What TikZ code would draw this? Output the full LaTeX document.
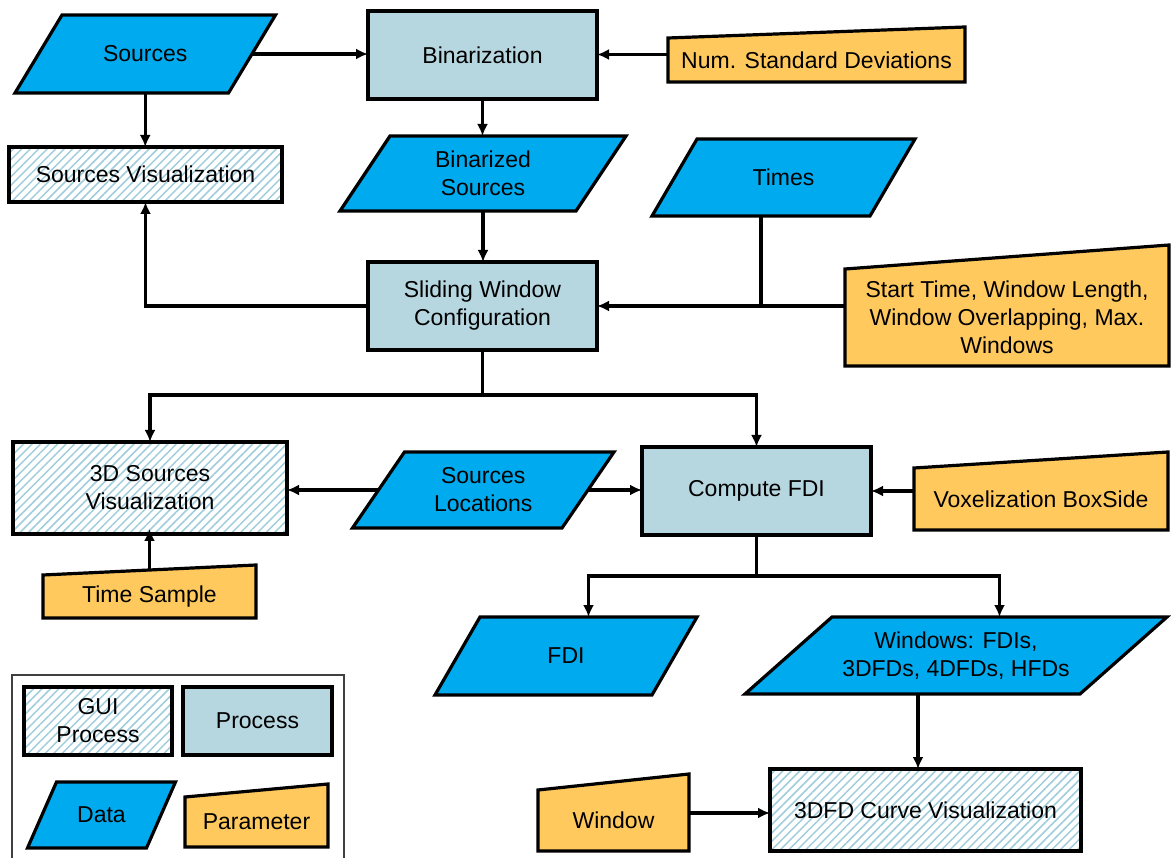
\documentclass[tikz,border=0pt]{standalone}
\usepackage{fontspec}
\setmainfont{Liberation Sans}
\usetikzlibrary{arrows.meta,patterns.meta,fit,calc}
\pgfdeclarelayer{background}
\pgfsetlayers{background,main}
\definecolor{datablue}{RGB}{0,170,238}
\definecolor{procfill}{RGB}{182,214,224}
\definecolor{paramfill}{RGB}{255,201,94}
\definecolor{hatchcol}{RGB}{160,205,220}
\newcommand{\datashp}[2]{\path[datashape] ([xshift={#2/2}]#1.north west) -- ([xshift={#2/2}]#1.north east) -- ([xshift={-#2/2}]#1.south east) -- ([xshift={-#2/2}]#1.south west) -- cycle;}
\newcommand{\parshp}[2]{\path[paramshape] (#1.south west) -- (#1.north west) -- ([yshift=#2]#1.north east) -- (#1.south east) -- cycle;}
\tikzset{
  every node/.style={inner sep=0pt, outer sep=0pt},
  lbl/.style={font=\fontsize{23}{28}\selectfont, text=black, align=center},
  proc/.style={draw, line width=3.2pt, fill=procfill},
  gui/.style={draw, line width=3.2pt, preaction={fill=white}, pattern={Lines[angle=45,distance=6pt,line width=1.5pt]}, pattern color=hatchcol},
  txtbox/.style={},
  datashape/.style={draw, line width=3.2pt, fill=datablue, line join=miter},
  paramshape/.style={draw, line width=3.2pt, fill=paramfill, line join=miter},
  conn/.style={line width=3.2pt, -{Latex[length=12pt,width=11pt]}},
  plainline/.style={line width=3.2pt},
}
\begin{document}
\begin{tikzpicture}[x=1pt,y=-1pt]
\useasboundingbox (0,0) rectangle (1171,858);
% process boxes
\node[proc, fit={(368,11) (597,99)}] (bin) {};
\node[proc, fit={(368,262) (597,350)}] (swc) {};
\node[proc, fit={(642,447) (871,535)}] (cfdi) {};
% gui boxes
\node[gui, fit={(9,147) (282,202)}] (srcvis) {};
\node[gui, fit={(13,442) (287,534)}] (vis3d) {};
\node[gui, fit={(770,769) (1081,851)}] (curve) {};
% data
\node[txtbox, fit={(38.5,15) (252,93)}] (sources) {};
\node[txtbox, fit={(365,136) (601,211)}] (binsrc) {};
\node[txtbox, fit={(674.5,139) (892.5,216)}] (times) {};
\node[txtbox, fit={(378.5,452) (588,528)}] (srcloc) {};
\node[txtbox, fit={(457.5,617) (674.5,695)}] (fdi) {};
\node[txtbox, fit={(788.5,617) (1123.5,694)}] (windows) {};
% parameters
\node[txtbox, fit={(668,38) (965,82)}] (nsd) {};
\node[txtbox, fit={(845,269) (1169,366)}] (stp) {};
\node[txtbox, fit={(914,468) (1168,530)}] (vox) {};
\node[txtbox, fit={(43,575) (256,618)}] (tsamp) {};
\node[txtbox, fit={(538,790) (689,851)}] (window) {};
% legend
\node[gui, fit={(24,687) (172,755)}] (leggui) {};
\node[proc, fit={(183,687) (332,755)}] (legproc) {};
\node[txtbox, fit={(42,782) (161,848)}] (legdata) {};
\node[txtbox, fit={(185,797) (328,847)}] (legparam) {};
\begin{pgfonlayer}{background}
\datashp{sources}{47}
\datashp{binsrc}{50}
\datashp{times}{45}
\datashp{srcloc}{52}
\datashp{fdi}{45}
\datashp{windows}{87}
\datashp{legdata}{29}
\parshp{nsd}{11}
\parshp{stp}{24}
\parshp{vox}{16}
\parshp{tsamp}{10}
\parshp{window}{16}
\parshp{legparam}{13}
\draw[line width=1.5pt, black!75] (12,858) -- (12,675) -- (344,675) -- (344,858);
\end{pgfonlayer}
% texts
\node[lbl] (binT) at (bin) {Binarization};
\node[lbl] (swcT) at (swc) {Sliding Window\\Configuration};
\node[lbl] (cfdiT) at (cfdi) {Compute FDI};
\node[lbl] (srcvisT) at (srcvis) {Sources Visualization};
\node[lbl] (vis3dT) at (vis3d) {3D Sources\\Visualization};
\node[lbl] (curveT) at (curve) {3DFD Curve Visualization};
\node[lbl] (sourcesT) at (sources) {Sources};
\node[lbl] (binsrcT) at (binsrc) {Binarized\\Sources};
\node[lbl] (timesT) at (times) {Times};
\node[lbl] (srclocT) at (srcloc) {Sources\\Locations};
\node[lbl] (fdiT) at (fdi) {FDI};
\node[lbl] (windowsT) at (windows) {Windows: FDIs,\\3DFDs, 4DFDs, HFDs};
\node[lbl] (nsdT) at (nsd) {Num. Standard Deviations};
\node[lbl] (stpT) at (stp) {Start Time, Window Length,\\Window Overlapping, Max.\\Windows};
\node[lbl] (voxT) at (vox) {Voxelization BoxSide};
\node[lbl] (tsampT) at (tsamp) {Time Sample};
\node[lbl] (windowT) at (window) {Window};
\node[lbl] (leguiT) at (leggui) {GUI\\Process};
\node[lbl] (legprocT) at (legproc) {Process};
\node[lbl] (legdataT) at (legdata) {Data};
\node[lbl] (legparamT) at (legparam) {Parameter};
% connectors
\draw[conn] (sources.east) -- (sources.east -| bin.west);
\draw[conn] ([yshift=5.5pt]nsd.west) -- ([yshift=5.5pt]nsd.west -| bin.east);
\draw[conn] (sources.south) -- (sources.south |- srcvis.north);
\draw[conn] (bin.south) -- (bin.south |- binsrc.north);
\draw[conn] (binsrc.south) -- (binsrc.south |- swc.north);
\draw[conn] ([yshift=11.5pt]stp.west) -- ([yshift=11.5pt]stp.west -| swc.east);
\draw[plainline] ([xshift=-22.5pt]times.south) -- ([xshift=-22.5pt]times.south |- swc.east);
\draw[conn] (swc.west) -| (srcvis.south);
\draw[plainline] (swc.south) -- ++(0,45) coordinate (j1);
\draw[conn] (j1) -| (vis3d.north);
\draw[conn] (j1) -| (cfdi.north);
\draw[conn] (srcloc.west) -- (srcloc.west -| vis3d.east);
\draw[conn] (srcloc.east) -- (srcloc.east -| cfdi.west);
\draw[conn] ([yshift=8pt]vox.west) -- ([yshift=8pt]vox.west -| cfdi.east);
\draw[conn] ([yshift=5pt]tsamp.north) -- ([yshift=5pt]tsamp.north |- vis3d.south);
\draw[plainline] (cfdi.south) -- ++(0,41) coordinate (j2);
\draw[conn] (j2) -| ([xshift=22.5pt]fdi.north);
\draw[conn] (j2) -| ([xshift=43.5pt]windows.north);
\draw[conn] ([xshift=-38pt]windows.south) -- ([xshift=-38pt]windows.south |- curve.north);
\draw[conn] ([yshift=7.5pt]window.east) -- ([yshift=7.5pt]window.east -| curve.west);
\end{tikzpicture}
\end{document}
